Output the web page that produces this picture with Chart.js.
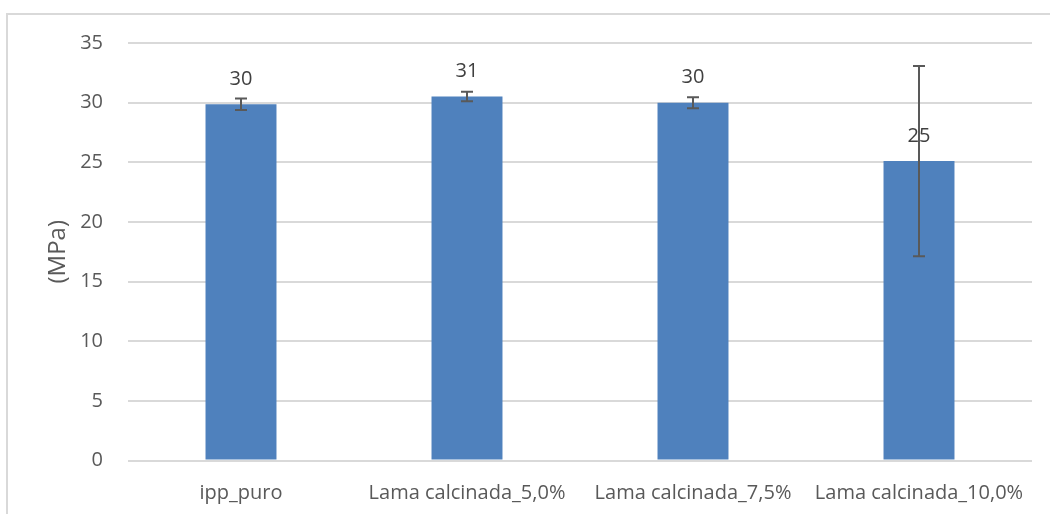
<!DOCTYPE html>
<html>
<head>
<meta charset="utf-8">
<script src="https://cdn.jsdelivr.net/npm/chart.js@4.4.0/dist/chart.umd.min.js"></script>
<style>
  html, body { margin: 0; padding: 0; background: #fff; overflow: hidden; }
  #frame { position: absolute; left: 6px; top: 13px; width: 1100px; height: 600px; border: 2px solid #D9D9D9; box-sizing: border-box; }
  #wrap { position: absolute; left: 0; top: 0; width: 1050px; height: 514px; }
</style>
</head>
<body>
<div id="frame"></div>
<div id="wrap"><canvas id="chart" width="1050" height="514"></canvas></div>
<script>
// dados
const categorias = ['ipp_puro', 'Lama calcinada_5,0%', 'Lama calcinada_7,5%', 'Lama calcinada_10,0%'];
const valores = [29.86, 30.52, 30.0, 25.1];
const desvios = [0.48, 0.4, 0.46, 7.97];
const rotulos = ['30', '31', '30', '25'];
const yTicks = [0, 5, 10, 15, 20, 25, 30, 35];

const fonte = "'Open Sans', 'Noto Sans', sans-serif";
const cinza = '#595959';

// barras de erro
const errorBars = {
  id: 'errorBars',
  afterDatasetsDraw(chart) {
    const ctx = chart.ctx;
    const meta = chart.getDatasetMeta(0);
    const y = chart.scales.y;
    ctx.save();
    ctx.strokeStyle = cinza;
    ctx.lineWidth = 2;
    meta.data.forEach((bar, i) => {
      const top = y.getPixelForValue(valores[i] + desvios[i]);
      const bot = y.getPixelForValue(valores[i] - desvios[i]);
      const x = bar.x;
      ctx.beginPath();
      ctx.moveTo(x, top); ctx.lineTo(x, bot);
      ctx.moveTo(x - 6, top); ctx.lineTo(x + 6, top);
      ctx.moveTo(x - 6, bot); ctx.lineTo(x + 6, bot);
      ctx.stroke();
    });
    ctx.restore();
  }
};

// rótulos de dados
const dataLabels = {
  id: 'dataLabels',
  afterDraw(chart) {
    const ctx = chart.ctx;
    const meta = chart.getDatasetMeta(0);
    ctx.save();
    ctx.fillStyle = '#404040';
    ctx.font = '20px ' + fonte;
    ctx.textAlign = 'center';
    ctx.textBaseline = 'middle';
    meta.data.forEach((bar, i) => {
      ctx.fillText(rotulos[i], bar.x, bar.y - 25);
    });
    ctx.restore();
  }
};

new Chart(document.getElementById('chart').getContext('2d'), {
  type: 'bar',
  data: {
    labels: categorias,
    datasets: [{
      data: valores,
      backgroundColor: '#4F81BD',
      borderWidth: 0,
      barPercentage: 0.314,
      categoryPercentage: 1
    }]
  },
  options: {
    responsive: false,
    animation: false,
    layout: { padding: { top: 43, right: 18, left: 0, bottom: 0 } },
    plugins: { legend: { display: false }, tooltip: { enabled: false } },
    scales: {
      x: {
        grid: { display: false },
        border: { display: false },
        ticks: { color: cinza, font: { family: fonte, size: 20 }, padding: 13, maxRotation: 0, autoSkip: false },
        afterFit(scale) { scale.height = 53.5; }
      },
      y: {
        min: 0,
        max: 35,
        afterBuildTicks(scale) { scale.ticks = yTicks.map(v => ({ value: v })); },
        grid: { color: '#D9D9D9', lineWidth: 2, drawTicks: false },
        border: { display: false },
        ticks: { color: cinza, font: { family: fonte, size: 20 }, padding: 25 },
        title: { display: true, text: '(MPa)', color: cinza, font: { family: fonte, size: 24 }, padding: { top: 44, bottom: 0 } },
        afterFit(scale) { scale.width = 128; }
      }
    }
  },
  plugins: [errorBars, dataLabels]
});
</script>
</body>
</html>
